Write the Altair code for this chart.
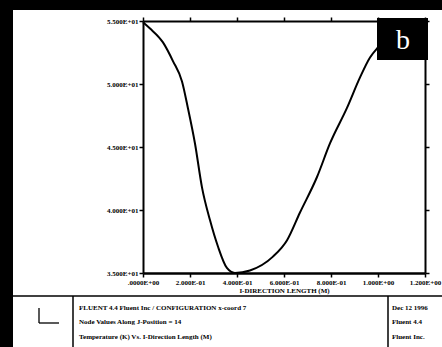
import altair as alt
import pandas as pd

# Temperature profile along the I-direction (J-position 14)
length_m = [0.000, 0.030, 0.085, 0.128, 0.166, 0.191, 0.221, 0.251, 0.285, 0.319,
            0.357, 0.391, 0.455, 0.553, 0.613, 0.668, 0.740, 0.796, 0.868, 0.923,
            0.966, 1.000, 1.070, 1.130]
temperature_k = [54.9, 54.4, 53.3, 51.8, 50.2, 48.1, 45.3, 41.8, 39.2, 37.1,
                 35.4, 35.0, 35.2, 36.3, 37.6, 39.8, 42.6, 45.3, 48.1, 50.5,
                 52.1, 52.9, 54.1, 54.8]

x_ticks = [0.0, 0.2, 0.4, 0.6, 0.8, 1.0, 1.2]
x_tick_labels = [".0000E+00", "2.000E-01", "4.000E-01", "6.000E-01",
                 "8.000E-01", "1.000E+00", "1.200E+00"]
y_ticks = [35, 40, 45, 50, 55]
y_tick_labels = ["3.500E+01", "4.000E+01", "4.500E+01", "5.000E+01", "5.500E+01"]

info_left = ["FLUENT 4.4 Fluent Inc / CONFIGURATION x-coord 7",
             "Node Values Along J-Position = 14",
             "Temperature (K) Vs. I-Direction Length (M)"]
info_right = ["Dec 12 1996", "Fluent 4.4", "Fluent Inc."]

W, H = 282, 252
FONT = "Liberation Serif"
FS = 7


def label_expr(values, labels):
    parts = " : ".join(f"abs(datum.value - {v}) < 1e-6 ? '{l}'" for v, l in zip(values, labels))
    return parts + " : ''"


df = pd.DataFrame({"length": length_m, "temp": temperature_k})
one = pd.DataFrame({"k": [0]})

xs = alt.Scale(domain=[0, 1.2], nice=False, zero=False)
ys = alt.Scale(domain=[35, 55], nice=False, zero=False)

common = dict(grid=False, tickSize=4, tickWidth=1.5, domainColor="black",
              tickColor="black", zindex=2)

line = alt.Chart(df).mark_line(color="black", strokeWidth=2, clip=False,
                               interpolate="monotone").encode(
    x=alt.X("length:Q", scale=xs,
            axis=alt.Axis(values=x_ticks, labelExpr=label_expr(x_ticks, x_tick_labels),
                          title="I-DIRECTION LENGTH (M)", orient="bottom",
                          domainWidth=2.5, labelFontSize=FS,
                          labelFont=FONT, labelFontWeight="bold", labelPadding=1,
                          titleFont=FONT, titleFontSize=FS, titleFontWeight="bold",
                          titlePadding=1, labelColor="black", titleColor="black",
                          labelFlush=False, **common)),
    y=alt.Y("temp:Q", scale=ys,
            axis=alt.Axis(values=y_ticks, labelExpr=label_expr(y_ticks, y_tick_labels),
                          title=None, orient="left", domainWidth=2, labelFontSize=FS,
                          labelFont=FONT, labelFontWeight="bold", labelPadding=1,
                          labelColor="black", **common)),
    order=alt.Order("length:Q"),
)

# Frame axes on the top and right carry ticks only
frame = alt.Chart(df).mark_point(opacity=0).encode(
    x=alt.X("length:Q", scale=xs,
            axis=alt.Axis(values=x_ticks, labels=False, title=None, orient="top",
                          domainWidth=2, **common)),
    y=alt.Y("temp:Q", scale=ys,
            axis=alt.Axis(values=y_ticks, labels=False, title=None, orient="right",
                          domainWidth=2, **common)),
)


def rect(x, x2, y, y2, color):
    return alt.Chart(one).mark_rect(color=color, clip=False).encode(
        x=alt.value(x), x2=alt.value(x2), y=alt.value(y), y2=alt.value(y2))


def rule(x, x2, y, y2, width=1.5):
    return alt.Chart(one).mark_rule(color="black", strokeWidth=width, clip=False).encode(
        x=alt.value(x), x2=alt.value(x2), y=alt.value(y), y2=alt.value(y2))


def text(s, x, y, size=FS, color="black", align="left", font=FONT, weight="bold"):
    return alt.Chart(one).mark_text(text=s, align=align, baseline="middle", fontSize=size,
                                    font=font, fontWeight=weight, color=color,
                                    clip=False).encode(x=alt.value(x), y=alt.value(y))


# page: dark border, white sheet
page = [
    rect(-143, 299, -21, 326, "black"),
    rect(-130, 299, -11, 326, "white"),
]

# title block under the plot
block = [
    rule(-130, 299, 275, 275, 1.5),
    rule(-70, -70, 275, 326, 1.5),
    rule(245, 245, 275, 326, 1.5),
    # coordinate icon
    rule(-104, -104, 287, 302, 1.3),
    rule(-104, -84, 302, 302, 1.3),
]
rows_y = [287, 301, 316]
block += [text(s, -64, y) for s, y in zip(info_left, rows_y)]
block += [text(s, 249, y) for s, y in zip(info_right, rows_y)]

# panel tag
tag = [
    rect(234, 285, -3, 39, "black"),
    text("b", 260, 20, size=28, color="white", align="center", weight="normal"),
]

chart = alt.layer(*page, line, frame, *block, *tag).resolve_axis(
    x="independent", y="independent"
).properties(
    width=W, height=H,
    autosize=alt.AutoSizeParams(type="none"),
    padding={"left": 143, "top": 21, "right": 17, "bottom": 74},
).configure_view(stroke=None).configure(background="white")

chart.save("out.html", embed_options={"renderer": "svg", "actions": False})
